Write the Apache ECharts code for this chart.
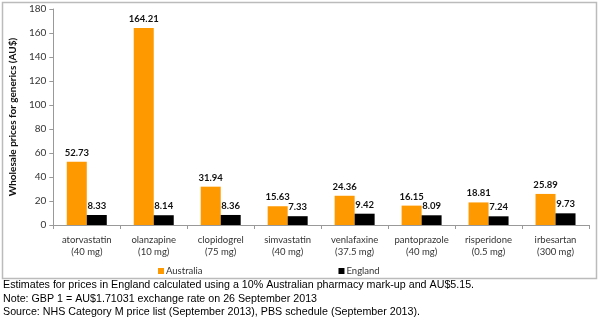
<!DOCTYPE html>
<html>
<head>
<meta charset="utf-8">
<script src="https://cdn.jsdelivr.net/npm/echarts@6/dist/echarts.min.js"></script>
<style>
  html, body { margin: 0; padding: 0; background: #fff; }
  #chart { width: 600px; height: 323px; }
</style>
</head>
<body>
<div id="chart"></div>
<script>
// Generic drug wholesale prices, Australia vs England (AU$)
const drugs = ['atorvastatin\n(40 mg)', 'olanzapine\n(10 mg)', 'clopidogrel\n(75 mg)', 'simvastatin\n(40 mg)',
               'venlafaxine\n(37.5 mg)', 'pantoprazole\n(40 mg)', 'risperidone\n(0.5 mg)', 'irbesartan\n(300 mg)'];
const australia = [52.73, 164.21, 31.94, 15.63, 24.36, 16.15, 18.81, 25.89];
const england = [8.33, 8.14, 8.36, 7.33, 9.42, 8.09, 7.24, 9.73];
const yTicks = { min: 0, max: 180, interval: 20 };
const footnotes = [
  'Estimates for prices in England calculated using a 10% Australian pharmacy mark-up and AU$5.15.',
  'Note: GBP 1 = AU$1.71031 exchange rate on 26 September 2013',
  'Source: NHS Category M price list (September 2013), PBS schedule (September 2013).'
];

const chart = echarts.init(document.getElementById('chart'), null, { renderer: 'canvas' });
const font = 'Lato, "Open Sans", sans-serif';
const labelStyle = {
  show: true, position: 'top', distance: 4,
  fontFamily: font, fontWeight: 'bold', fontSize: 9.5, color: '#111',
  formatter: p => p.value.toFixed(2)
};

chart.setOption({
  animation: false,
  backgroundColor: '#fff',
  grid: { left: 47, right: 11, top: 9, bottom: 98 },
  legend: {
    data: ['Australia', 'England'],
    left: 153, top: 261, itemWidth: 6, itemHeight: 6, itemGap: 136,
    textStyle: { fontFamily: font, fontSize: 9.5, color: '#333', padding: [0, 0, 0, -3] },
    icon: 'rect'
  },
  xAxis: {
    type: 'category', data: drugs,
    axisLine: { lineStyle: { color: '#999' } },
    axisTick: { show: true, length: 4, lineStyle: { color: '#999' } },
    axisLabel: { fontFamily: font, fontSize: 9.5, color: '#333', lineHeight: 12, margin: 9, interval: 0 }
  },
  yAxis: {
    type: 'value', min: yTicks.min, max: yTicks.max, interval: yTicks.interval,
    name: 'Wholesale prices for generics (AU$)',
    nameLocation: 'middle', nameGap: 31, nameRotate: 90,
    nameTextStyle: { fontFamily: font, fontWeight: 'bold', fontSize: 10, color: '#111' },
    axisLine: { show: true, lineStyle: { color: '#999' } },
    axisTick: { show: true, length: 4, lineStyle: { color: '#999' } },
    splitLine: { show: false },
    axisLabel: { fontFamily: font, fontSize: 10, color: '#333', margin: 7 }
  },
  series: [
    { name: 'Australia', type: 'bar', data: australia, barWidth: 20, barGap: '0%',
      itemStyle: { color: '#FF9900' }, label: labelStyle },
    { name: 'England', type: 'bar', data: england, barWidth: 20,
      itemStyle: { color: '#000' }, label: labelStyle }
  ],
  graphic: [
    { type: 'rect', shape: { x: 2.5, y: 2.5, width: 594, height: 276 },
      style: { fill: 'none', stroke: '#bbb', lineWidth: 1.5 }, z: -1 },
    ...footnotes.map((t, i) => ({
      type: 'text', left: 3, top: 280 + i * 13.5,
      style: { text: t, font: '10.7px "Liberation Sans", Arial, sans-serif', fill: '#000' }
    }))
  ]
});
</script>
</body>
</html>
